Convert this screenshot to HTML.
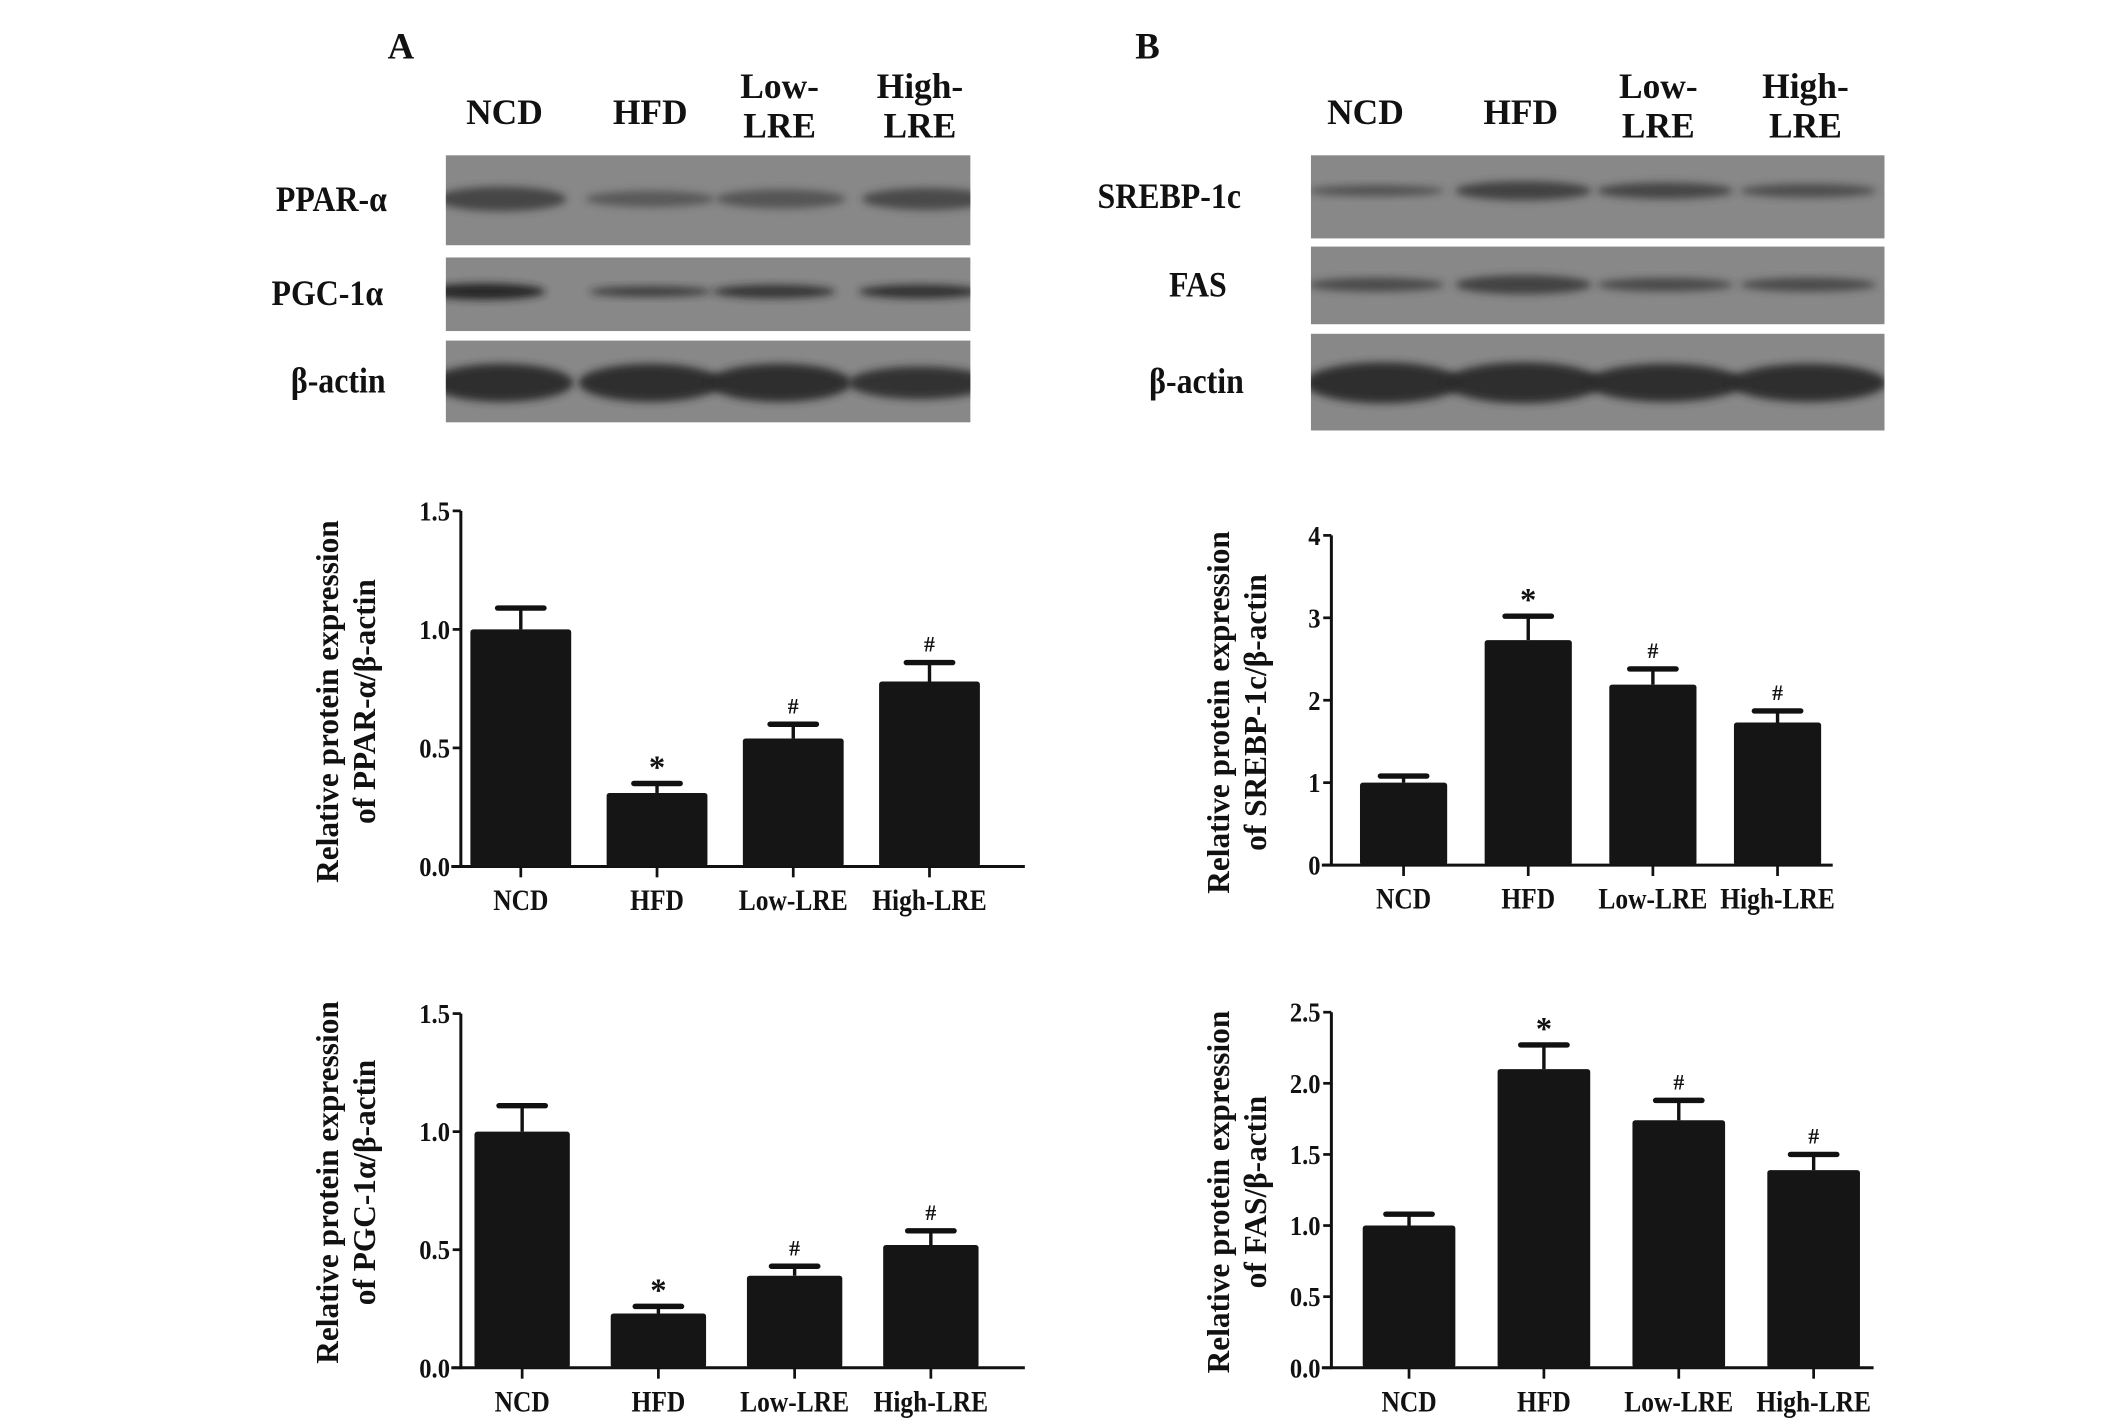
<!DOCTYPE html>
<html><head><meta charset="utf-8">
<style>
html,body{margin:0;padding:0;background:#fff;}
svg{display:block;}
text{font-family:"Liberation Serif",serif;font-weight:bold;fill:#111;}
</style></head>
<body>
<svg id="fig" width="2126" height="1425" viewBox="0 0 1560 1046" xmlns="http://www.w3.org/2000/svg">
<defs>
<filter id="blur" x="-20%" y="-50%" width="140%" height="200%"><feGaussianBlur stdDeviation="3"/></filter>
</defs>
<g id="blots"></g>
<g id="charts"></g>
</svg>
<script>
const categories = ["NCD","HFD","Low-LRE","High-LRE"];
const ppar = [1.0,0.31,0.54,0.78];
const pparErr = [0.09,0.04,0.06,0.08];
const pgc = [1.0,0.23,0.39,0.52];
const pgcErr = [0.11,0.03,0.04,0.06];
const srebp = [1.0,2.73,2.19,1.73];
const srebpErr = [0.08,0.29,0.19,0.14];
const fas = [1.0,2.10,1.74,1.39];
const fasErr = [0.08,0.17,0.14,0.11];
const marks = ["","*","#","#"];
const ticksA = ["0.0","0.5","1.0","1.5"];
const ticksB1 = ["0","1","2","3","4"];
const ticksB2 = ["0.0","0.5","1.0","1.5","2.0","2.5"];

const NS="http://www.w3.org/2000/svg";
function el(tag,attrs,parent,txt){const e=document.createElementNS(NS,tag);for(const k in attrs)e.setAttribute(k,attrs[k]);if(txt!==undefined)e.textContent=txt;parent.appendChild(e);return e;}
const charts=document.getElementById('charts');
const blots=document.getElementById('blots');

function chart(cfg){
  const g=el('g',{},charts);
  
  
  const ticks=cfg.ticks, vmax=parseFloat(ticks[ticks.length-1]);
  const y=v=>cfg.y0-(v/vmax)*(cfg.y0-cfg.y1);
  const ax=cfg.ax;
  const ya=el('line',{x1:ax,y1:cfg.y1,x2:ax,y2:cfg.y0+1,stroke:'#111','stroke-width':2.2},g);
  
  
  const xa=el('line',{x1:ax-7,y1:cfg.y0,x2:cfg.xend,y2:cfg.y0,stroke:'#111','stroke-width':2.2},g);
  
  
  ticks.forEach(t=>{
    const v=parseFloat(t),yy=y(v);
    el('line',{x1:ax-6,y1:yy,x2:ax,y2:yy,stroke:'#111','stroke-width':2},g);
    const tl=el('text',{transform:`translate(${ax-8},${yy+7}) scale(0.9,1)`,'text-anchor':'end','font-size':20},g,t);
    
    
  });
  categories.forEach((c,i)=>{
    const cx=cfg.c0+cfg.step*i;
    const w=cfg.bw, v=cfg.vals[i], e=cfg.errs[i];
    const top=y(v);
    const et=y(v+e);
    el('line',{x1:cx,y1:top,x2:cx,y2:et,stroke:'#111','stroke-width':2.5},g);
    el('line',{x1:cx-17,y1:et,x2:cx+17,y2:et,stroke:'#111','stroke-width':4,'stroke-linecap':'round'},g);
    const b=el('rect',{x:cx-w/2,y:top,width:w,height:cfg.y0-top,fill:'#151515',rx:2},g);
    
    
    el('line',{x1:cx,y1:cfg.y0,x2:cx,y2:cfg.y0+8,stroke:'#111','stroke-width':2},g);
    const xl=el('text',{transform:`translate(${cx},${cfg.y0+32}) scale(0.85,1)`,'text-anchor':'middle','font-size':22},g,c);
    
    
    if(marks[i]){
      const m=el('text',{x:cx,y:et-(marks[i]=='*'?4:8),'text-anchor':'middle','font-size':marks[i]=='*'?24:16},g,marks[i]);
      
      
    }
  });
  const tt=el('text',{transform:`translate(${cfg.tx},${cfg.ty}) rotate(-90)`,'text-anchor':'middle','font-size':23},g);
  
  
  el('tspan',{x:0,dy:0},tt,'Relative protein expression');
  el('tspan',{x:0,dy:27},tt,cfg.title);
}

chart({name:'ppar-chart',ticks:ticksA,vals:ppar,errs:pparErr,ax:338,y0:636,y1:375,xend:752,bw:74,c0:382,step:100,tx:248,ty:515,title:'of PPAR-α/β-actin'});
chart({name:'pgc-chart',ticks:ticksA,vals:pgc,errs:pgcErr,ax:338,y0:1004,y1:744,xend:752,bw:70,c0:383,step:100,tx:248,ty:868,title:'of PGC-1α/β-actin'});
chart({name:'srebp-chart',ticks:ticksB1,vals:srebp,errs:srebpErr,ax:977,y0:635,y1:393,xend:1345,bw:64,c0:1030,step:91.5,tx:902,ty:523,title:'of SREBP-1c/β-actin'});
chart({name:'fas-chart',ticks:ticksB2,vals:fas,errs:fasErr,ax:977,y0:1004,y1:743,xend:1375,bw:68,c0:1034,step:99,tx:902,ty:875,title:'of FAS/β-actin'});

// western blots
const laneA=[370,477,572,675];
const laneB=[1002,1116,1217,1325];
let clipId=0;
function blot(name,x0,x1,yt,yb,lanes,bands,bw,label,lx){
  const g=el('g',{},blots);
  
  
  const id='clip'+(clipId++);
  const cp=el('clipPath',{id:id},g);
  el('rect',{x:x0,y:yt,width:x1-x0,height:yb-yt},cp);
  el('rect',{x:x0,y:yt,width:x1-x0,height:yb-yt,fill:'#888'},g);
  const bg=el('g',{'clip-path':'url(#'+id+')'},g);
  lanes.forEach((cx,i)=>{
    el('ellipse',{cx:cx,cy:bands.cy,rx:bw/2,ry:bands.h[i],fill:bands.c,opacity:bands.o[i],filter:'url(#blur)'},bg);
  });
  const t=el('text',{transform:`translate(${lx},${(yt+yb)/2+8}) scale(0.9,1)`,'text-anchor':'middle','font-size':26},g,label);
  
  
}
blot('blot-ppar',327,712,114,180,[368,477,573,680],{cy:146,c:'#3a3a3a',h:[9,6,7,8],o:[0.85,0.6,0.65,0.8]},95,'PPAR-α',243);
blot('blot-pgc',327,712,189,243,[355,477,568,675],{cy:214,c:'#202020',h:[6,4,5,5],o:[0.95,0.7,0.8,0.85]},90,'PGC-1α',240);
blot('blot-actin-a',327,712,250,310,[368,477,572,675],{cy:281,c:'#2a2a2a',h:[14,14,14,12],o:[0.95,0.95,0.95,0.9]},105,'β-actin',248);
blot('blot-srebp',962,1383,114,175,[1010,1118,1222,1327],{cy:140,c:'#3a3a3a',h:[4,7,6,5],o:[0.7,0.9,0.85,0.75]},100,'SREBP-1c',858);
blot('blot-fas',962,1383,181,238,[1010,1118,1222,1327],{cy:209,c:'#3a3a3a',h:[5,7,5,5],o:[0.8,0.9,0.8,0.8]},100,'FAS',879);
blot('blot-actin-b',962,1383,245,316,[1015,1118,1222,1327],{cy:281,c:'#2a2a2a',h:[15,15,14,14],o:[0.95,0.95,0.95,0.95]},115,'β-actin',878);

function lanesLabel(xs,prefix){
  const single=[['NCD'],['HFD'],['Low-','LRE'],['High-','LRE']];
  single.forEach((lines,i)=>{
    const t=el('text',{x:xs[i],'text-anchor':'middle','font-size':26},blots);
    
    
    if(lines.length==1){el('tspan',{x:xs[i],y:91},t,lines[0]);}
    else{el('tspan',{x:xs[i],y:72},t,lines[0]);el('tspan',{x:xs[i],y:101},t,lines[1]);}
  });
}
lanesLabel(laneA,'a');
lanesLabel(laneB,'b');
const pa=el('text',{x:294,y:43,'text-anchor':'middle','font-size':27},blots,'A');


const pb=el('text',{x:842,y:43,'text-anchor':'middle','font-size':27},blots,'B');


</script>
</body></html>
